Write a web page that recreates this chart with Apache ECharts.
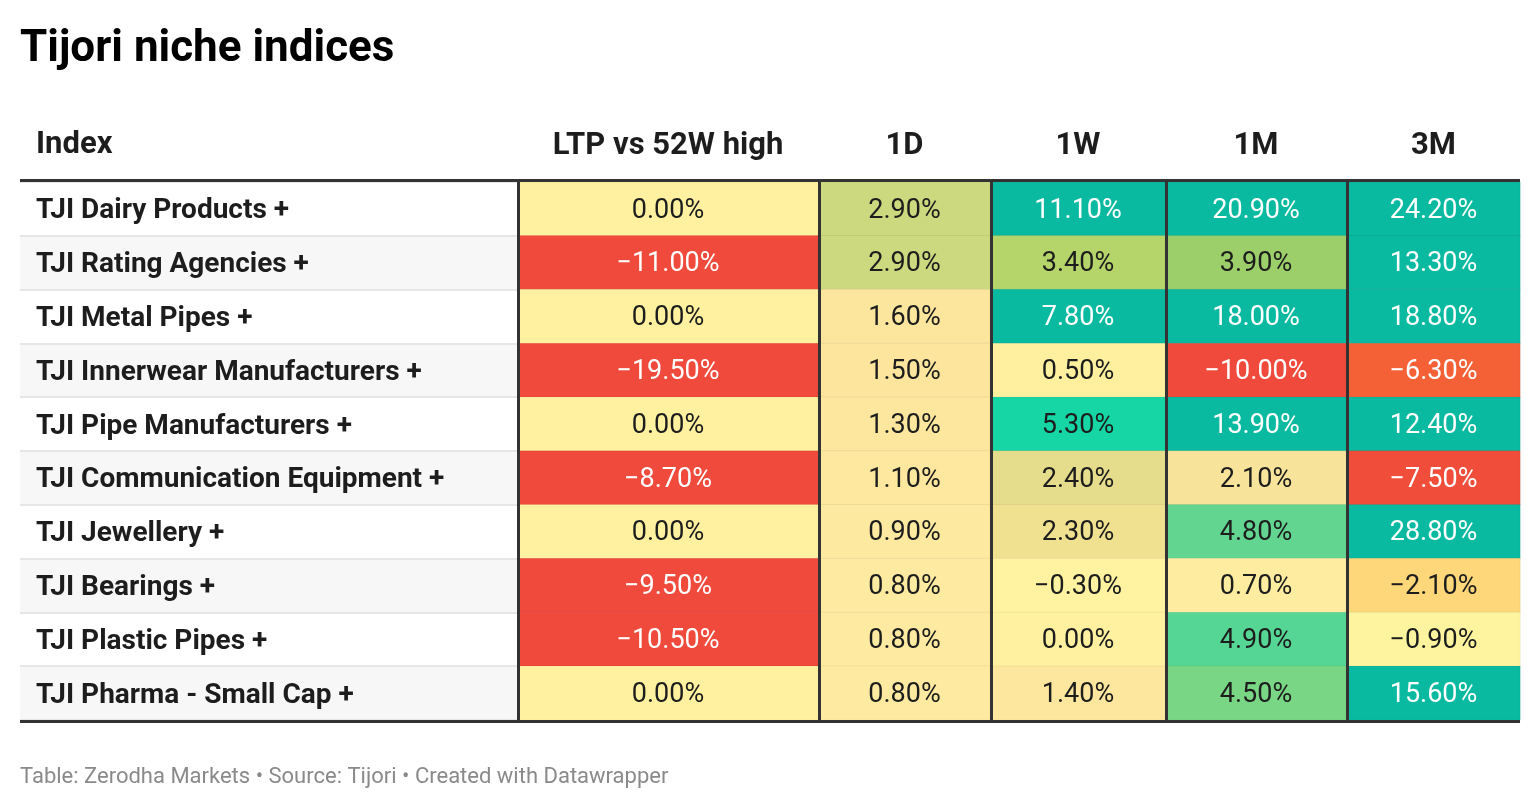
<!DOCTYPE html>
<html>
<head>
<meta charset="utf-8">
<title>Tijori niche indices</title>
<script src="https://cdn.jsdelivr.net/npm/echarts@6/dist/echarts.min.js"></script>
<style>
  html, body { margin: 0; padding: 0; background: #fff; }
  #chart { width: 1540px; height: 810px; }
</style>
</head>
<body>
<div id="chart"></div>
<script>
// table data
var indexNames = [
    'TJI Dairy Products +',
    'TJI Rating Agencies +',
    'TJI Metal Pipes +',
    'TJI Innerwear Manufacturers +',
    'TJI Pipe Manufacturers +',
    'TJI Communication Equipment +',
    'TJI Jewellery +',
    'TJI Bearings +',
    'TJI Plastic Pipes +',
    'TJI Pharma - Small Cap +'
];
var columnNames = ['LTP vs 52W high', '1D', '1W', '1M', '3M'];
var ltpVs52wHigh = [0.0, -11.0, 0.0, -19.5, 0.0, -8.7, 0.0, -9.5, -10.5, 0.0];
var oneDay = [2.9, 2.9, 1.6, 1.5, 1.3, 1.1, 0.9, 0.8, 0.8, 0.8];
var oneWeek = [11.1, 3.4, 7.8, 0.5, 5.3, 2.4, 2.3, -0.3, 0.0, 1.4];
var oneMonth = [20.9, 3.9, 18.0, -10.0, 13.9, 2.1, 4.8, 0.7, 4.9, 4.5];
var threeMonth = [24.2, 13.3, 18.8, -6.3, 12.4, -7.5, 28.8, -2.1, -0.9, 15.6];

var columns = [ltpVs52wHigh, oneDay, oneWeek, oneMonth, threeMonth];

// layout of the columns (px)
var colLeft = [518, 819, 991, 1166, 1347];
var colRight = [818, 990, 1165, 1346, 1520];
var tableTop = 182, tableBottom = 720;

var FONT = 'Roboto, "Noto Sans", sans-serif';

// colour scale: red -> yellow -> green -> teal
var colorStops = [
    [-8, '#ef4a3c'], [-7, '#f04f3a'], [-6.3, '#f46137'], [-4, '#f9a24f'],
    [-2.1, '#fed77a'], [-0.9, '#fef4a0'], [0, '#fff1a0'], [0.5, '#fff0a0'],
    [0.8, '#feeaa0'], [1.5, '#fde59d'], [2.1, '#f8e39a'], [2.3, '#f0e191'],
    [2.4, '#e6dd8c'], [2.9, '#cdd97f'], [3.4, '#b5d46a'], [3.9, '#9ccf6a'],
    [4.5, '#79d684'], [4.8, '#62d690'], [4.9, '#56d694'], [5.3, '#15d6a4'],
    [7.8, '#0abaa0']
];

function hexToRgb(h) {
    return [parseInt(h.substr(1, 2), 16), parseInt(h.substr(3, 2), 16), parseInt(h.substr(5, 2), 16)];
}

function colorAt(v) {
    if (v <= colorStops[0][0]) return colorStops[0][1];
    var last = colorStops[colorStops.length - 1];
    if (v >= last[0]) return last[1];
    for (var i = 1; i < colorStops.length; ++i) {
        if (v <= colorStops[i][0]) {
            var a = colorStops[i - 1], b = colorStops[i];
            var t = (v - a[0]) / (b[0] - a[0]);
            var ca = hexToRgb(a[1]), cb = hexToRgb(b[1]);
            var c = ca.map(function (x, k) { return Math.round(x + (cb[k] - x) * t); });
            return 'rgb(' + c.join(',') + ')';
        }
    }
    return last[1];
}

var scaleMin = -20, scaleMax = 30, scaleStep = 0.1;
var scaleColors = [];
for (var s = scaleMin; s <= scaleMax + 1e-9; s += scaleStep) scaleColors.push(colorAt(s));

function textColor(v) {
    return (v >= 7.5 || v <= -6) ? '#ffffff' : '#1d1d1d';
}

function fmt(v) {
    var t = Math.abs(v).toFixed(2) + '%';
    return v < 0 ? '\u2212' + t : t;
}

var grids = [{ left: 20, width: 497, top: tableTop, height: tableBottom - tableTop }];
var xAxes = [{
    gridIndex: 0, type: 'category', data: [''],
    axisLine: { show: false }, axisTick: { show: false }, axisLabel: { show: false }
}];
var yAxes = [{
    gridIndex: 0, type: 'category', inverse: true, data: indexNames,
    axisLine: { show: false }, axisTick: { show: false },
    axisLabel: {
        inside: true, margin: 16, color: '#1d1d1d',
        fontFamily: FONT, fontSize: 28, fontWeight: 'bold',
        formatter: function (name) { return '{n|' + name + '}'; },
        rich: {
            n: { fontFamily: FONT, fontSize: 28, fontWeight: 'bold', color: '#1d1d1d', padding: [5, 0, 0, 0] }
        }
    },
    splitArea: { show: true, areaStyle: { color: ['#ffffff', '#f7f7f7'] } },
    splitLine: { show: true, lineStyle: { color: '#e6e6e6', width: 2 } }
}];
var series = [{ type: 'scatter', xAxisIndex: 0, yAxisIndex: 0, data: [] }];

for (var c = 0; c < columns.length; ++c) {
    var gi = c + 1;
    grids.push({ left: colLeft[c], width: colRight[c] - colLeft[c], top: tableTop, height: tableBottom - tableTop });
    xAxes.push({
        gridIndex: gi, type: 'category', position: 'top', data: [columnNames[c]],
        axisLine: { show: false }, axisTick: { show: false },
        axisLabel: { margin: 20, color: '#1d1d1d', fontFamily: FONT, fontSize: 31, fontWeight: 'bold' }
    });
    yAxes.push({
        gridIndex: gi, type: 'category', inverse: true, data: indexNames, z: 10,
        axisLine: { show: true, lineStyle: { color: '#333333', width: 3 } },
        axisTick: { show: false }, axisLabel: { show: false }, splitLine: { show: false }
    });
    var data = [];
    for (var r = 0; r < columns[c].length; ++r) {
        var v = columns[c][r];
        data.push({ value: [0, r, v], label: { color: textColor(v) } });
    }
    series.push({
        type: 'heatmap', xAxisIndex: gi, yAxisIndex: gi, data: data, z: 1,
        itemStyle: { borderColor: 'rgba(0,0,0,0.05)', borderWidth: 1 },
        label: {
            show: true, fontFamily: FONT, fontSize: 27, offset: [0, 2],
            formatter: function (p) { return fmt(p.value[2]); }
        },
        emphasis: { disabled: true }
    });
}

var option = {
    backgroundColor: '#ffffff',
    animation: false,
    title: [
        {
            text: 'Tijori niche indices', left: 20, top: 28, padding: 0,
            textStyle: { fontFamily: FONT, fontSize: 44, fontWeight: 'bold', color: '#000000' }
        },
        {
            text: 'Index', left: 36, top: 130, padding: 0,
            textStyle: { fontFamily: FONT, fontSize: 31, fontWeight: 'bold', color: '#1d1d1d' }
        },
        {
            text: 'Table: Zerodha Markets \u2022 Source: Tijori \u2022 Created with Datawrapper',
            left: 20, top: 766, padding: 0,
            textStyle: { fontFamily: FONT, fontSize: 22, fontWeight: 'normal', color: '#8a8a8a' }
        }
    ],
    visualMap: {
        type: 'continuous', show: false, min: scaleMin, max: scaleMax,
        dimension: 2, seriesIndex: [1, 2, 3, 4, 5],
        inRange: { color: scaleColors }
    },
    grid: grids,
    xAxis: xAxes,
    yAxis: yAxes,
    series: series,
    graphic: [
        { type: 'line', z: 100, shape: { x1: 20, y1: 180.5, x2: 1520, y2: 180.5 }, style: { stroke: '#333333', lineWidth: 3 } },
        { type: 'line', z: 100, shape: { x1: 20, y1: 721.5, x2: 1520, y2: 721.5 }, style: { stroke: '#333333', lineWidth: 3 } }
    ]
};

var myChart = echarts.init(document.getElementById('chart'));
myChart.setOption(option);
</script>
</body>
</html>
